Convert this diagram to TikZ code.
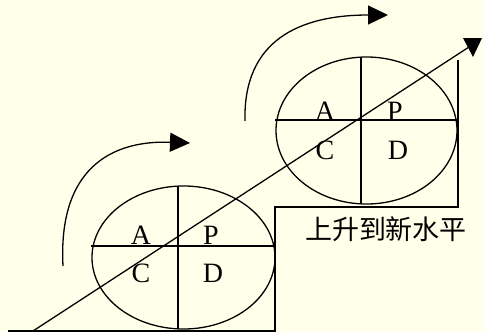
\documentclass[tikz,border=0pt]{standalone}
\usepackage{fontspec}
\setmainfont{Liberation Serif}
\newfontfamily\cjk{Noto Sans CJK SC}
\usetikzlibrary{arrows.meta,shapes.geometric}
\definecolor{bgc}{RGB}{255,255,234}
\tikzset{
  ln/.style={line width=1.3pt,black},
  pdca/.style={ellipse,draw,line width=1.3pt,inner sep=0pt},
  lett/.style={font=\fontsize{28}{28}\selectfont,inner sep=0pt,anchor=base},
  curv/.style={line width=1.3pt,-{Triangle[length=20pt,width=19pt]}},
}
\begin{document}
\begin{tikzpicture}[x=1pt,y=-1pt]
\fill[bgc] (0,0) rectangle (483,332);
\useasboundingbox (0,0) rectangle (483,332);
% step
\coordinate (s0) at (8,331);
\coordinate (s1) at (275,331);
\coordinate (s2) at (275,207);
\coordinate (s3) at (458,207);
\coordinate (s4) at (458,60);
\draw[ln] (s0) -- (s1) -- (s2) -- (s3) -- (s4);
% lower ellipse
\node[pdca,minimum width=183pt,minimum height=143pt] (e1) at (183.5,257.5) {};
\draw[ln] (e1.west |- 0,246) -- (e1.east |- 0,246);
\draw[ln] (178,186) -- (178,329);
\node[lett] (a1) at (141,244) {A};
\node[lett] (p1) at (211,244) {P};
\node[lett,anchor=north] (c1) at (141,264) {C};
\node[lett,anchor=north] (d1) at (213,264) {D};
% upper ellipse
\node[pdca,minimum width=181pt,minimum height=147pt] (e2) at (366.5,130.5) {};
\draw[ln] (e2.west |- 0,120) -- (e2.east |- 0,120);
\draw[ln] (361,57) -- (361,204);
\node[lett] (a2) at (325,120) {A};
\node[lett] (p2) at (395,120) {P};
\node[lett,anchor=north] (c2) at (325,141) {C};
\node[lett,anchor=north] (d2) at (398,141) {D};
% diagonal arrow
\coordinate (g0) at (33,331);
\coordinate (g1) at (469,47);
\draw[ln] (g0) -- (g1);
\fill (463,38) -- (482,38) -- (473,57) -- cycle;
% curved arrows
\coordinate (k0) at (63,266);
\coordinate (k1) at (190,143);
\draw[curv] (k0) .. controls (58,170) and (110,140) .. (k1);
\coordinate (m0) at (245,121);
\coordinate (m1) at (388,15);
\draw[curv] (m0) .. controls (243,40) and (300,15) .. (m1);
% label
\node[font=\cjk\fontsize{27}{27}\selectfont,inner sep=0pt] (lbl) at (386,229) {上升到新水平};
\end{tikzpicture}
\end{document}
